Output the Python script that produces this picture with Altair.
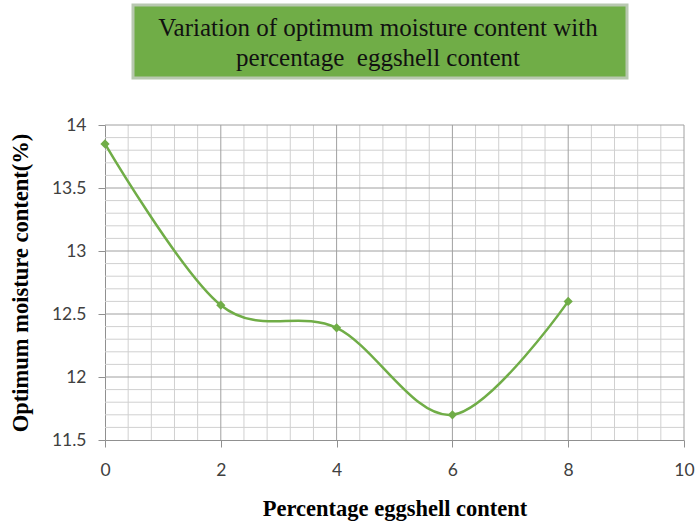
import altair as alt
import pandas as pd

# Data
eggshell = [0, 2, 4, 6, 8]
moisture = [13.85, 12.57, 12.39, 11.70, 12.60]
x_major = [0, 2, 4, 6, 8, 10]
y_major = [11.5, 12.0, 12.5, 13.0, 13.5, 14.0]
x_minor = [v / 10 for v in range(0, 101, 4) if v % 20 != 0]
y_minor = [round(11.5 + i / 10, 1) for i in range(0, 26) if i % 5 != 0]
title_lines = ["Variation of optimum moisture content with", "percentage\u00a0 eggshell content"]

df = pd.DataFrame({"x": eggshell, "y": moisture})
W, H = 579, 315
GREEN = "#70ad47"

xs = alt.Scale(domain=[0, 10], nice=False, zero=False)
ys = alt.Scale(domain=[11.5, 14], nice=False, zero=False)

xminor = alt.Chart(pd.DataFrame({"v": x_minor})).mark_rule(color="#d0d0d0", strokeWidth=1).encode(
    x=alt.X("v:Q", scale=xs))
yminor = alt.Chart(pd.DataFrame({"v": y_minor})).mark_rule(color="#d0d0d0", strokeWidth=1).encode(
    y=alt.Y("v:Q", scale=ys))
xmajor = alt.Chart(pd.DataFrame({"v": x_major[1:]})).mark_rule(color="#a0a0a0", strokeWidth=1).encode(
    x=alt.X("v:Q", scale=xs))
ymajor = alt.Chart(pd.DataFrame({"v": y_major[1:]})).mark_rule(color="#a0a0a0", strokeWidth=1).encode(
    y=alt.Y("v:Q", scale=ys))

base = alt.Chart(df).encode(
    x=alt.X("x:Q", scale=xs, axis=alt.Axis(
        values=x_major, grid=False, title="Percentage eggshell content", format="~g",
        titleFont="Liberation Serif", titleFontSize=22.5, titleFontWeight="bold", titleColor="black",
        titlePadding=19, labelFont="Lato", labelFontSize=17.5, labelColor="#404040",
        labelPadding=14, tickSize=7, tickColor="#909090", domainColor="#909090", labelFlush=False)),
    y=alt.Y("y:Q", scale=ys, axis=alt.Axis(
        values=y_major, grid=False, title="Optimum moisture content(%)", format="~g",
        titleFont="Liberation Serif", titleFontSize=22.5, titleFontWeight="bold", titleColor="black",
        titlePadding=19, labelFont="Lato", labelFontSize=17.5, labelColor="#404040",
        labelPadding=12, tickSize=7, tickColor="#909090", domainColor="#909090", labelFlush=False)),
)
line = base.mark_line(color=GREEN, strokeWidth=2.5, interpolate="cardinal")
pts = base.mark_point(shape="diamond", filled=True, color=GREEN, size=85, opacity=1)

box = alt.Chart(pd.DataFrame({"a": [0]})).mark_rect(
    fill=GREEN, stroke="#b8c8b0", strokeWidth=3, clip=False).encode(
    x=alt.value(28), x2=alt.value(522), y=alt.value(-120), y2=alt.value(-47))
t1 = alt.Chart(pd.DataFrame({"t": [title_lines[0]]})).mark_text(
    font="Liberation Serif", fontSize=25, color="#111111", align="center", baseline="middle").encode(
    text="t:N", x=alt.value(273), y=alt.value(-97))
t2 = alt.Chart(pd.DataFrame({"t": [title_lines[1]]})).mark_text(
    font="Liberation Serif", fontSize=25, color="#111111", align="center", baseline="middle").encode(
    text="t:N", x=alt.value(273), y=alt.value(-67))

chart = alt.layer(xminor, yminor, xmajor, ymajor, line, pts, box, t1, t2).properties(
    width=W, height=H,
    autosize=alt.AutoSizeParams(type="none"),
    padding={"left": 105, "top": 125, "right": 12, "bottom": 85},
    background="white",
).configure_view(stroke=None)

chart.save("out.html", embed_options={"renderer": "svg", "actions": False})
